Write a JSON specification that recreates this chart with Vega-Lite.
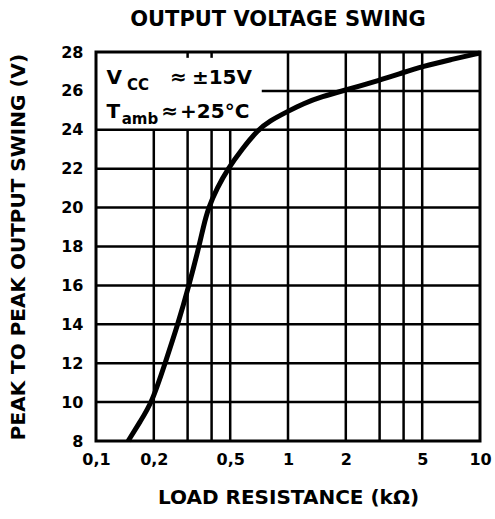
{
  "$schema": "https://vega.github.io/schema/vega-lite/v6.json",
  "autosize": {"type": "none"},
  "width": 384,
  "height": 389,
  "padding": {"left": 96, "top": 52, "right": 15, "bottom": 78},
  "background": "white",
  "config": {
    "view": {"stroke": "black", "strokeWidth": 3},
    "font": "DejaVu Sans",
    "axis": {"domain": false, "ticks": false, "tickSize": 0, "grid": false, "labelFont": "DejaVu Sans", "labelFontWeight": "bold", "labelFontSize": 16, "labelColor": "black", "titleFont": "DejaVu Sans", "titleFontWeight": "bold", "titleFontSize": 20, "titleColor": "black"}
  },
  "title": {"text": "OUTPUT VOLTAGE SWING", "fontSize": 21, "fontWeight": "bold", "font": "DejaVu Sans", "color": "black", "offset": 13, "dx": -10},
  "datasets": {
    "vgrid": [
      {"x": 0.2, "y": 8, "y2": 24},
      {"x": 0.3, "y": 8, "y2": 24},
      {"x": 0.4, "y": 8, "y2": 24},
      {"x": 0.5, "y": 8, "y2": 24},
      {"x": 0.3, "y": 27.7, "y2": 28},
      {"x": 0.4, "y": 27.7, "y2": 28},
      {"x": 1, "y": 8, "y2": 28},
      {"x": 2, "y": 8, "y2": 28},
      {"x": 3, "y": 8, "y2": 28},
      {"x": 4, "y": 8, "y2": 28},
      {"x": 5, "y": 8, "y2": 28}
    ],
    "hgrid": [
      {"y": 10, "x": 0.1, "x2": 10},
      {"y": 12, "x": 0.1, "x2": 10},
      {"y": 14, "x": 0.1, "x2": 10},
      {"y": 16, "x": 0.1, "x2": 10},
      {"y": 18, "x": 0.1, "x2": 10},
      {"y": 20, "x": 0.1, "x2": 10},
      {"y": 22, "x": 0.1, "x2": 10},
      {"y": 24, "x": 0.1, "x2": 10},
      {"y": 26, "x": 0.73, "x2": 10}
    ],
    "curve": [
      {"x": 0.147, "y": 8},
      {"x": 0.17, "y": 9},
      {"x": 0.196, "y": 10},
      {"x": 0.229, "y": 12},
      {"x": 0.267, "y": 14},
      {"x": 0.305, "y": 16},
      {"x": 0.344, "y": 18},
      {"x": 0.362, "y": 19},
      {"x": 0.385, "y": 20},
      {"x": 0.427, "y": 21},
      {"x": 0.487, "y": 22},
      {"x": 0.575, "y": 23},
      {"x": 0.698, "y": 24},
      {"x": 0.8, "y": 24.45},
      {"x": 1, "y": 24.95},
      {"x": 1.2, "y": 25.35},
      {"x": 1.5, "y": 25.7},
      {"x": 2, "y": 26.05},
      {"x": 3, "y": 26.55},
      {"x": 4, "y": 26.95},
      {"x": 5, "y": 27.25},
      {"x": 7, "y": 27.6},
      {"x": 10, "y": 27.95}
    ],
    "bigtext": [
      {"x": 0.1135, "y": 26.35, "t": "V"},
      {"x": 0.1135, "y": 24.6, "t": "T"},
      {"x": 0.243, "y": 26.35, "t": "≈"},
      {"x": 0.316, "y": 26.35, "t": "±15V"},
      {"x": 0.219, "y": 24.6, "t": "≈"},
      {"x": 0.274, "y": 24.6, "t": "+25°C"}
    ],
    "smalltext": [
      {"x": 0.145, "y": 26.05, "t": "CC"},
      {"x": 0.136, "y": 24.3, "t": "amb"}
    ]
  },
  "encoding": {
    "x": {"field": "x", "type": "quantitative", "scale": {"type": "log", "domain": [0.1, 10], "nice": false},
      "axis": {"values": [0.1, 0.2, 0.5, 1, 2, 5, 10], "format": "~g", "labelExpr": "replace(datum.label, '.', ',')", "labelPadding": 10, "title": "LOAD RESISTANCE (kΩ)", "titlePadding": 20, "labelFlush": false}},
    "y": {"field": "y", "type": "quantitative", "scale": {"domain": [8, 28], "nice": false, "zero": false},
      "axis": {"values": [8, 10, 12, 14, 16, 18, 20, 22, 24, 26, 28], "labelPadding": 13, "title": "PEAK TO PEAK OUTPUT SWING (V)", "titlePadding": 32, "labelFlush": false}}
  },
  "layer": [
    {"data": {"name": "vgrid"}, "mark": {"type": "rule", "color": "black", "strokeWidth": 2.5},
      "encoding": {"y2": {"field": "y2"}}},
    {"data": {"name": "hgrid"}, "mark": {"type": "rule", "color": "black", "strokeWidth": 2.5},
      "encoding": {"x2": {"field": "x2"}}},
    {"data": {"name": "curve"}, "mark": {"type": "line", "color": "black", "strokeWidth": 5, "interpolate": "basis"},
      "encoding": {}},
    {"data": {"name": "bigtext"}, "mark": {"type": "text", "align": "left", "baseline": "alphabetic", "font": "DejaVu Sans", "fontWeight": "bold", "fontSize": 20, "color": "black"},
      "encoding": {"text": {"field": "t"}}},
    {"data": {"name": "smalltext"}, "mark": {"type": "text", "align": "left", "baseline": "alphabetic", "font": "DejaVu Sans", "fontWeight": "bold", "fontSize": 15, "color": "black"},
      "encoding": {"text": {"field": "t"}}}
  ]
}
